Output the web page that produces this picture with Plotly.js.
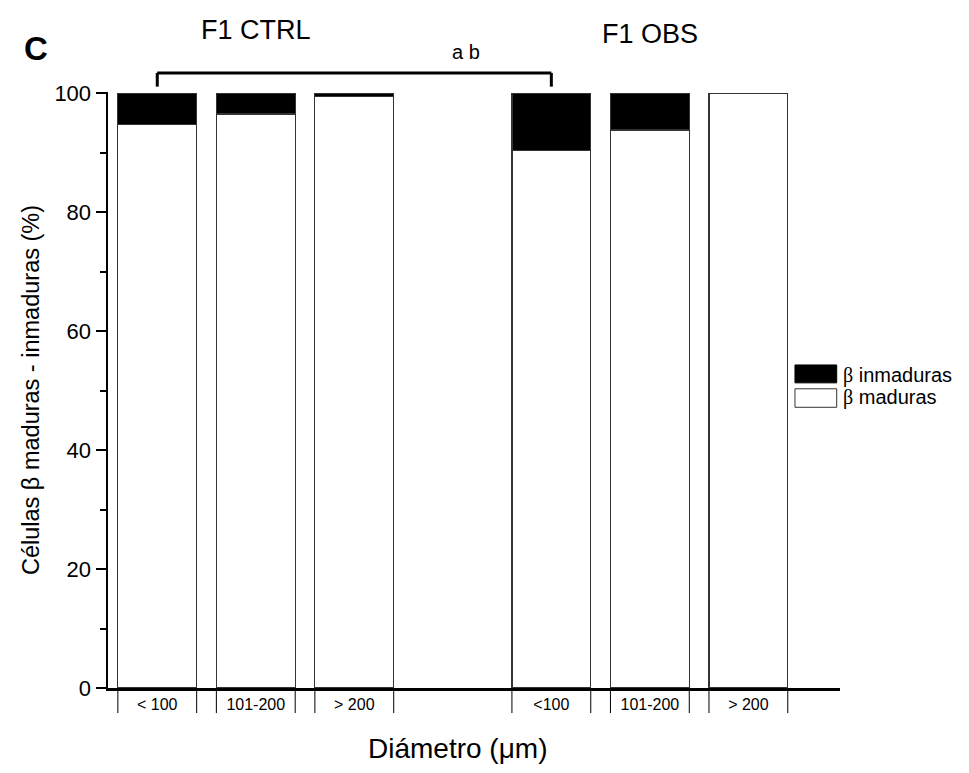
<!DOCTYPE html>
<html>
<head>
<meta charset="utf-8">
<script src="https://cdn.plot.ly/plotly-3.0.1.min.js"></script>
<style>html,body{margin:0;padding:0;background:#fff;}#chart{width:969px;height:773px;}</style>
</head>
<body>
<div id="chart"></div>
<script>
// Data
const categories = ["< 100", "101-200", "> 200", "<100", "101-200", "> 200"];
const positions = [0, 1, 2, 4, 5, 6];
const maduras = [94.8, 96.5, 99.5, 90.3, 93.8, 100];
const inmaduras = [5.2, 3.5, 0.5, 9.7, 6.2, 0];
const groupLabels = ["F1 CTRL", "F1 OBS"];
const groupCenters = [1, 5];
const bracketEnds = [0, 4];
const bracketLabel = "a b";

const FONT = "Liberation Sans, Arial, sans-serif";
const SERIF = "Liberation Serif, Times New Roman, serif";
const barW = 0.8;

const traces = [
  {type: "bar", name: "β maduras", x: positions, y: maduras, width: barW,
   marker: {color: "#ffffff", line: {color: "#333333", width: 1.2}}, showlegend: false},
  {type: "bar", name: "β inmaduras", x: positions, y: inmaduras, width: barW,
   marker: {color: "#000000", line: {color: "#333333", width: 1.2}}, showlegend: false}
];

const shapes = [];
// tick marks at bar edges below axis
positions.forEach(p => {
  [p - barW/2, p + barW/2].forEach(e => {
    shapes.push({type: "line", xref: "x", yref: "paper", x0: e, x1: e, y0: 0, y1: -0.042,
      line: {color: "#000", width: 1}});
  });
});
// bracket
const bTop = 1.032, bLeg = 1.009;
shapes.push({type: "line", xref: "x", yref: "paper", x0: bracketEnds[0], x1: bracketEnds[1], y0: bTop, y1: bTop,
  line: {color: "#000", width: 3}});
shapes.push({type: "line", xref: "x", yref: "paper", x0: bracketEnds[0], x1: bracketEnds[0], y0: bTop, y1: bLeg,
  line: {color: "#000", width: 3}});
shapes.push({type: "line", xref: "x", yref: "paper", x0: bracketEnds[1], x1: bracketEnds[1], y0: bTop, y1: bLeg,
  line: {color: "#000", width: 3}});
// legend swatches
shapes.push({type: "rect", xref: "paper", yref: "paper", x0: 0.9385, x1: 0.9955, y0: 0.512, y1: 0.542,
  fillcolor: "#000", line: {color: "#000", width: 1}});
shapes.push({type: "rect", xref: "paper", yref: "paper", x0: 0.9385, x1: 0.9955, y0: 0.471, y1: 0.502,
  fillcolor: "#fff", line: {color: "#333", width: 1}});

const annotations = [];
const groupY = [1.104, 1.097];
groupLabels.forEach((t, i) => {
  annotations.push({text: t, x: groupCenters[i], xref: "x", y: groupY[i], yref: "paper",
    showarrow: false, font: {family: FONT, size: 27, color: "#000"}, xanchor: "center", yanchor: "middle"});
});
annotations.push({text: bracketLabel, x: 3.13, xref: "x", y: 1.067, yref: "paper",
  showarrow: false, font: {family: FONT, size: 20, color: "#000"}, xanchor: "center", yanchor: "middle"});
annotations.push({text: "<b>C</b>", x: -0.098, xref: "paper", y: 1.073, yref: "paper",
  showarrow: false, font: {family: FONT, size: 33, color: "#000"}, xanchor: "center", yanchor: "middle"});
annotations.push({text: `<span style="font-family:${SERIF}">β</span> inmaduras`, x: 1.001, xref: "paper", y: 0.5245, yref: "paper",
  showarrow: false, font: {family: FONT, size: 20, color: "#000"}, xanchor: "left", yanchor: "middle"});
annotations.push({text: `<span style="font-family:${SERIF}">β</span> maduras`, x: 1.001, xref: "paper", y: 0.487, yref: "paper",
  showarrow: false, font: {family: FONT, size: 20, color: "#000"}, xanchor: "left", yanchor: "middle"});
// x-axis title (offset left of the axis centre, as in the original)
annotations.push({text: "Diámetro (μm)", x: 0.477, xref: "paper", y: -0.101, yref: "paper",
  showarrow: false, font: {family: FONT, size: 28, color: "#000"}, xanchor: "center", yanchor: "middle"});

const layout = {
  width: 969, height: 773,
  margin: {l: 108, r: 129, t: 92, b: 85},
  paper_bgcolor: "#fff", plot_bgcolor: "#fff",
  barmode: "stack", bargap: 0.2,
  showlegend: false,
  font: {family: FONT, color: "#000"},
  xaxis: {
    range: [-0.5, 6.93], tickvals: positions, ticktext: categories, ticks: "",
    showline: true, linecolor: "#000", linewidth: 2.5, showgrid: false, zeroline: false,
    tickfont: {family: FONT, size: 16, color: "#000"},
    fixedrange: true
  },
  yaxis: {
    range: [0, 100.2], tickvals: [0, 20, 40, 60, 80, 100], ticks: "outside", ticklen: 10, tickwidth: 2,
    tickcolor: "#000",
    minor: {tickvals: [10, 30, 50, 70, 90], ticks: "outside", ticklen: 6, tickwidth: 2, tickcolor: "#000"},
    showline: true, linecolor: "#000", linewidth: 2.5, showgrid: false, zeroline: false,
    tickfont: {family: FONT, size: 22, color: "#000"},
    title: {text: "Células β maduras - inmaduras (%)", font: {family: FONT, size: 23.5, color: "#000"}, standoff: 8},
    fixedrange: true
  },
  shapes: shapes,
  annotations: annotations
};

Plotly.newPlot("chart", traces, layout, {displayModeBar: false, staticPlot: true});
</script>
</body>
</html>
